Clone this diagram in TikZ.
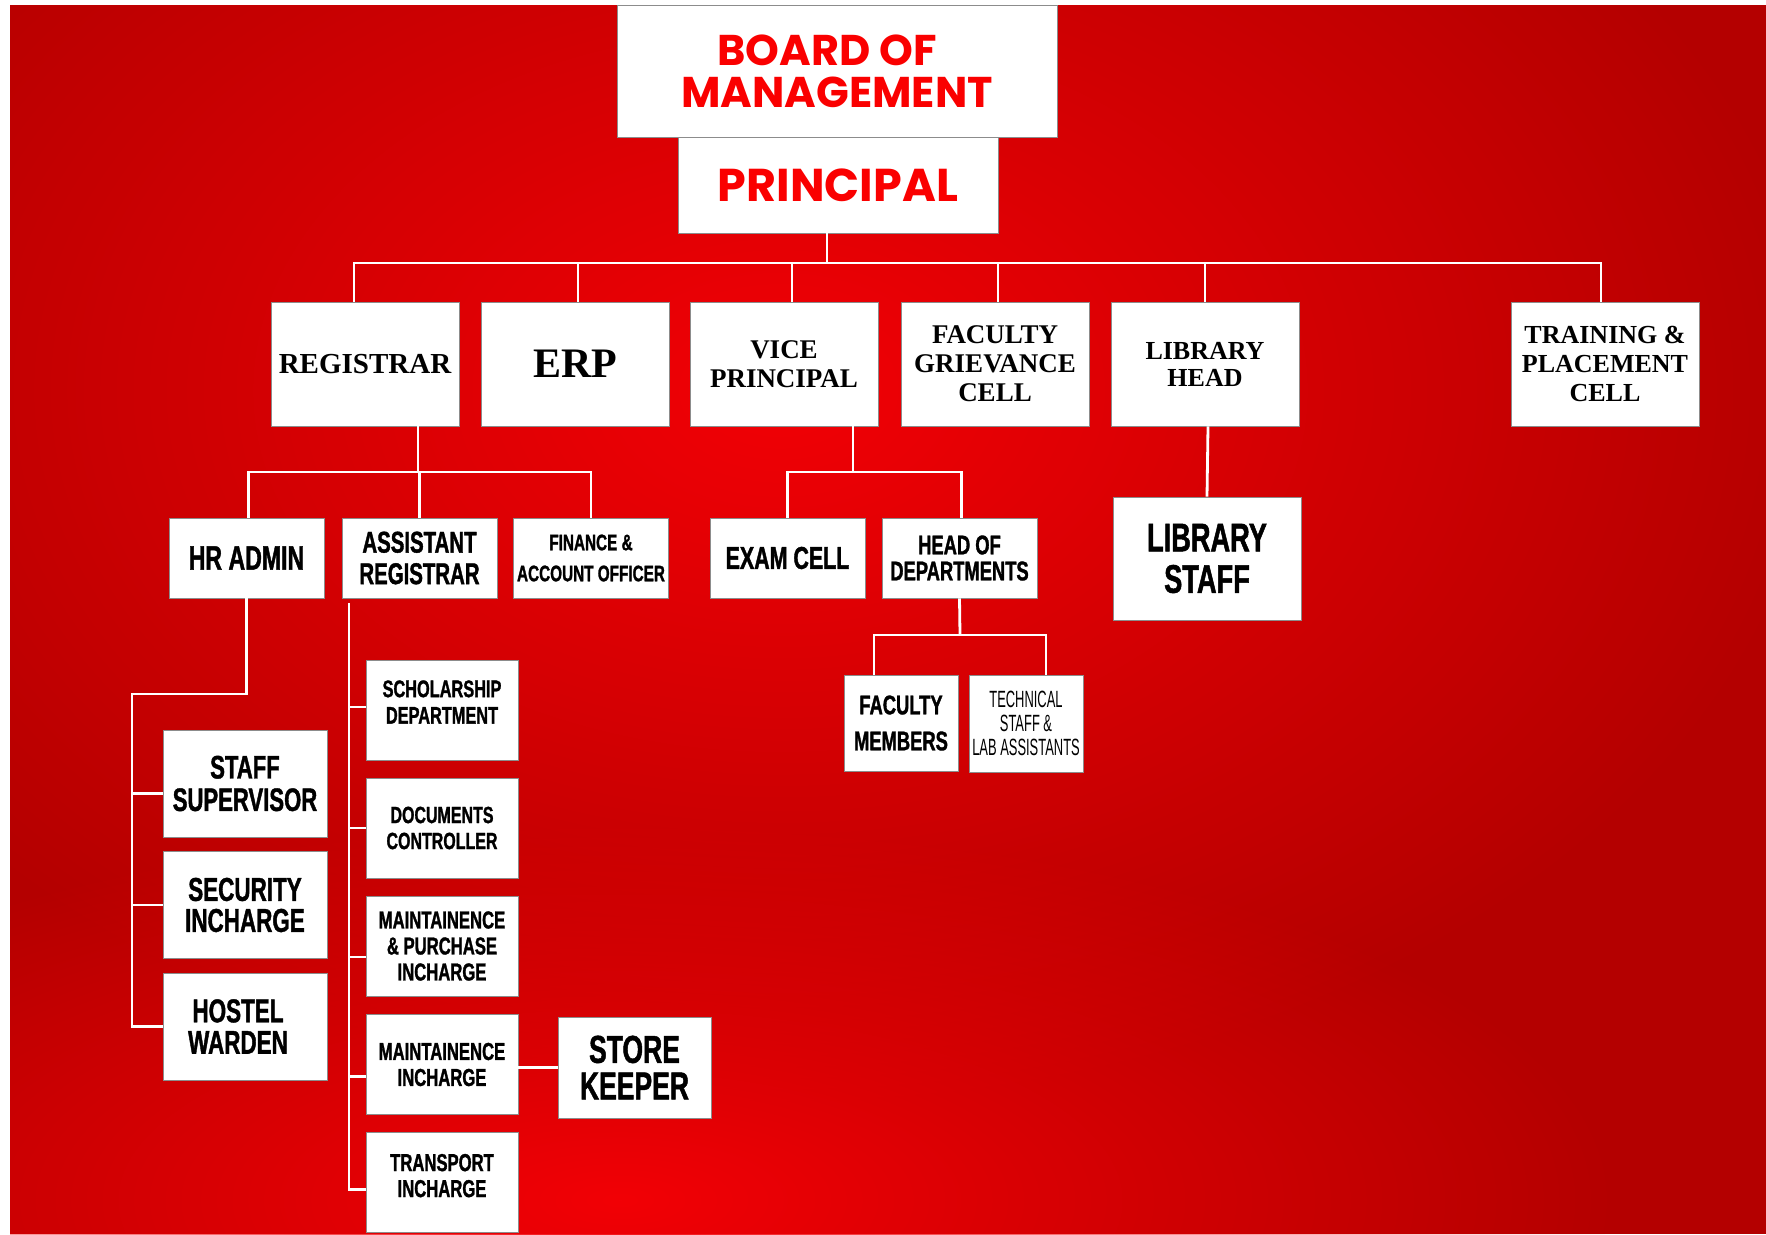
\documentclass[tikz,border=0pt]{standalone}
\usepackage{fontspec}
\usepackage{tikz}
\usetikzlibrary{positioning,calc,fadings}
\newfontfamily\titlefont{Poppins}
\newfontfamily\serifb{Liberation Serif}
\newfontfamily\cond{Liberation Sans}[FakeStretch=0.68,FakeBold=1.2]
\newfontfamily\condlight{Liberation Sans}[FakeStretch=0.55]
\definecolor{bgdark}{RGB}{180,0,0}
\definecolor{bgbright}{RGB}{242,0,6}
\definecolor{titlered}{RGB}{250,0,0}
\tikzfading[name=glow, inner color=transparent!0, outer color=transparent!100]

\begin{document}
\begin{tikzpicture}[x=1pt, y=-1pt,
    box/.style={draw=black!45, line width=0.8pt, fill=white, inner sep=0pt, align=center},
    topbox/.style={box, text=titlered, font=\titlefont\bfseries\fontsize{43}{42}\selectfont},
    rowone/.style={box, minimum width=188pt, minimum height=124pt, font=\serifb\bfseries\fontsize{27}{29}\selectfont},
    rowtwo/.style={box, minimum width=155pt, minimum height=80pt},
    hrbox/.style={box, minimum width=164pt, minimum height=107pt},
    arbox/.style={box, minimum width=152pt, minimum height=100pt},
    link/.style={draw=white, line width=2.8pt}]
    \useasboundingbox (0,0) rectangle (1766,1234);

    % Background
    \fill[white] (0,0) rectangle (1766,1234);
    \begin{scope}
    \clip (10,5) rectangle (1766,1234);
    \fill[bgdark] (10,5) rectangle (1766,1234);
    \fill[bgbright, path fading=glow] (780,390) ellipse (1050 and 720);
    \fill[bgbright, path fading=glow] (620,1200) ellipse (1000 and 380);
    \end{scope}

    % Top
    \node[topbox, minimum width=440pt, minimum height=132pt] (bom) at (837,71) {BOARD OF\hspace*{20pt}\\MANAGEMENT};
    \node[topbox, minimum width=320pt, minimum height=96pt, font=\titlefont\bfseries\fontsize{46}{46}\selectfont] (principal) at (838,185) {PRINCIPAL};

    % First row
    \node[rowone, font=\serifb\bfseries\fontsize{29}{29}\selectfont] (reg) at (365,364) {REGISTRAR};
    \node[rowone, font=\serifb\bfseries\fontsize{42}{42}\selectfont] (erp) at (575,364) {ERP};
    \node[rowone] (vp) at (784,364) {VICE\\PRINCIPAL};
    \node[rowone] (fgc) at (995,364) {FACULTY\\GRIEVANCE\\CELL};
    \node[rowone, font=\serifb\bfseries\fontsize{26}{27}\selectfont] (lh) at (1205,364) {LIBRARY\\HEAD};
    \node[rowone, font=\serifb\bfseries\fontsize{26}{29}\selectfont] (tpc) at (1605,364) {TRAINING \&\\PLACEMENT\\CELL};

    \coordinate (bus) at (827,263);
    \draw[link] ([xshift=-11pt]principal.south) -- (bus);
    \draw[link] ([xshift=-11pt]reg.north) |- (bus);
    \draw[link] ([xshift=3pt]erp.north) |- (bus);
    \draw[link] ([xshift=8pt]vp.north) |- (bus);
    \draw[link] ([xshift=3pt]fgc.north) |- (bus);
    \draw[link] (lh.north) |- (bus);
    \draw[link] ([xshift=-4pt]tpc.north) |- (bus);

    % Second row
    \node[rowtwo, font=\cond\bfseries\fontsize{34}{34}\selectfont] (hr) at (246.5,558) {HR ADMIN};
    \node[rowtwo, font=\cond\bfseries\fontsize{30}{31.5}\selectfont] (ar) at (419.5,558) {ASSISTANT\\REGISTRAR};
    \node[rowtwo, font=\cond\bfseries\fontsize{22.5}{31}\selectfont] (fin) at (591,558) {FINANCE \&\\ACCOUNT OFFICER};
    \node[rowtwo, font=\cond\bfseries\fontsize{31.5}{31.5}\selectfont] (exam) at (787.5,558) {EXAM CELL};
    \node[rowtwo, font=\cond\bfseries\fontsize{27}{26}\selectfont] (hod) at (959.5,558) {HEAD OF\\DEPARTMENTS};
    \node[box, minimum width=188pt, minimum height=123pt, font=\cond\bfseries\fontsize{40}{41.5}\selectfont] (lstaff) at (1207,558.5) {LIBRARY\\STAFF};

    \coordinate (regbus) at (418,472);
    \draw[link] ([xshift=53pt]reg.south) -- (regbus);
    \draw[link] ([xshift=2pt]hr.north) |- (regbus);
    \draw[link] (ar.north) |- (regbus);
    \draw[link] (fin.north) |- (regbus);

    \coordinate (vpbus) at (853,472);
    \draw[link] ([xshift=69pt]vp.south) -- (vpbus);
    \draw[link] (exam.north) |- (vpbus);
    \draw[link] ([xshift=2pt]hod.north) |- (vpbus);

    \draw[link] ([xshift=3pt]lh.south) -- (lstaff.north);

    % Departments
    \node[box, minimum width=114pt, minimum height=96pt, font=\cond\bfseries\fontsize{27}{36}\selectfont] (fm) at (901,723) {FACULTY\\MEMBERS};
    \node[box, minimum width=114pt, minimum height=97pt, font=\condlight\fontsize{23.5}{24}\selectfont] (ts) at (1026,723.5) {TECHNICAL\\STAFF \&\\LAB ASSISTANTS};

    \coordinate (hodbus) at (960,635);
    \draw[link] (hod.south) -- (hodbus);
    \draw[link] ([xshift=-27pt]fm.north) |- (hodbus);
    \draw[link] ([xshift=20pt]ts.north) |- (hodbus);

    % HR admin
    \node[hrbox, font=\cond\bfseries\fontsize{32.5}{32.5}\selectfont] (ss) at (245,783.5) {STAFF\\SUPERVISOR};
    \node[hrbox, font=\cond\bfseries\fontsize{33}{31}\selectfont] (sec) at (245,905) {SECURITY\\INCHARGE};
    \node[hrbox, font=\cond\bfseries\fontsize{33}{31.5}\selectfont] (hw) at (245,1026.5) {HOSTEL\hspace*{14pt}\\WARDEN\hspace*{14pt}};

    \coordinate (hrrail) at (132,694);
    \draw[link] (hr.south) |- (hrrail) -- (hrrail |- hw.west);
    \draw[link] ([yshift=-10pt]ss.west) -| (hrrail);
    \draw[link] (sec.west) -| (hrrail);
    \draw[link] (hw.west) -| (hrrail);

    % Assistant registrar
    \node[arbox, font=\cond\bfseries\fontsize{24}{26.5}\selectfont] (sch) at (442,710) {SCHOLARSHIP\\DEPARTMENT\\[-10.5pt]};
    \node[arbox, font=\cond\bfseries\fontsize{23.5}{26}\selectfont] (doc) at (442,828) {DOCUMENTS\\CONTROLLER};
    \node[arbox, font=\cond\bfseries\fontsize{24.5}{26}\selectfont] (mp) at (442,946) {MAINTAINENCE\\\& PURCHASE\\INCHARGE};
    \node[arbox, font=\cond\bfseries\fontsize{24.5}{26}\selectfont] (mi) at (442,1064.5) {MAINTAINENCE\\INCHARGE};
    \node[arbox, font=\cond\bfseries\fontsize{24.5}{26}\selectfont] (tr) at (442,1182.5) {TRANSPORT\\INCHARGE\\[-12pt]};
    \node[box, minimum width=153pt, minimum height=101pt, font=\cond\bfseries\fontsize{39}{36.5}\selectfont] (sk) at (634.5,1067.5) {STORE\\KEEPER};

    \coordinate (arrail) at (349,603);
    \draw[link] (arrail) |- ([yshift=-7pt]tr.west);
    \draw[link] ([yshift=3pt]sch.west) -| (arrail);
    \draw[link] (doc.west) -| (arrail);
    \draw[link] ([yshift=-11pt]mp.west) -| (arrail);
    \draw[link] ([yshift=-12pt]mi.west) -| (arrail);
    \draw[link] (sk.west) -- (sk.west -| mi.east);
\end{tikzpicture}
\end{document}
